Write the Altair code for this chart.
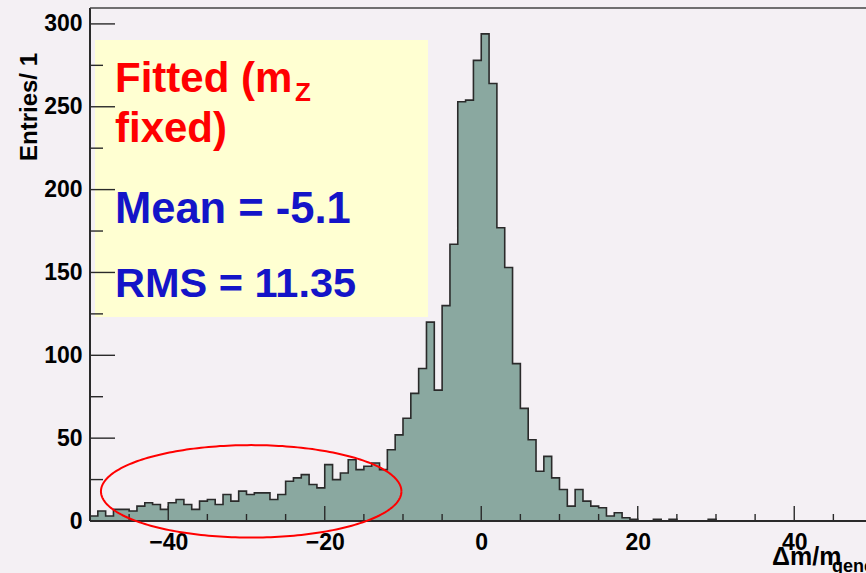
import altair as alt
import pandas as pd
import numpy as np

# ---------------- data ----------------
bin_low = list(range(-50, 50))          # bin lower edges, width 1
counts = [3, 6, 3, 7, 7, 6, 9, 11, 10, 7,
          11, 13, 10, 7, 12, 13, 10, 16, 12, 18,
          16, 17, 17, 13, 16, 24, 26, 28, 22, 20,
          34, 25, 29, 37, 31, 33, 35, 31, 43, 52,
          62, 77, 92, 120, 79, 130, 167, 253, 254, 278,
          294, 264, 177, 153, 95, 68, 49, 30, 39, 26,
          19, 9, 19, 12, 9, 8, 3, 5, 2, 1,
          0, 0, 1, 0, 1, 0, 0, 0, 0, 1,
          0, 0, 0, 0, 0, 0, 0, 0, 0, 0,
          0, 0, 0, 0, 0, 0, 0, 0, 0, 0]

y_major = [0, 50, 100, 150, 200, 250, 300]
y_minor = [25, 75, 125, 175, 225, 275]
x_major = [-40, -20, 0, 20, 40]
x_minor = [-45, -35, -30, -25, -15, -10, -5, 5, 10, 15, 25, 30, 35, 45]

# red ellipse annotation (centre / half-axes in data units)
ell_cx, ell_cy, ell_rx, ell_ry = -29.4, 17.9, 19.2, 27.9

# ---------------- styling ----------------
FONT = "Liberation Sans"
BG = "#f4f0f4"
FILL = "#8aa8a0"
DARK = "#2a2a2a"
RED = "#ff0000"
BLUE = "#1414c8"
W, H = 776, 513

xs = alt.Scale(domain=[-50, 49.17], nice=False, zero=False)
ys = alt.Scale(domain=[0, 309.6], nice=False, zero=False)
X_AX = alt.Axis(values=x_major, format="d", title=None, ticks=False, domain=False, grid=False,
                labelFont=FONT, labelFontSize=23, labelFontWeight="bold", labelColor="#000",
                labelPadding=10, labelFlush=False, labelOverlap=False)
Y_AX = alt.Axis(values=y_major, format="d", title=None, ticks=False, domain=False, grid=False,
                labelFont=FONT, labelFontSize=23, labelFontWeight="bold", labelColor="#000",
                labelPadding=8, labelFlush=False, labelOverlap=False)

def X(f="x"):
    return alt.X(f"{f}:Q", scale=xs, axis=X_AX)

def Y(f="y"):
    return alt.Y(f"{f}:Q", scale=ys, axis=Y_AX)

one = pd.DataFrame({"a": [0]})

step_df = pd.DataFrame({"x": bin_low + [50], "y": counts + [counts[-1]]})

box = alt.Chart(one).mark_rect(color="#ffffd2").encode(
    x=alt.value(5), x2=alt.value(338), y=alt.value(32), y2=alt.value(309))

area = alt.Chart(step_df).mark_area(interpolate="step-after", color=FILL).encode(x=X(), y=Y())
outline = alt.Chart(step_df).mark_line(interpolate="step-after", color=DARK, strokeWidth=1.6).encode(x=X(), y=Y())

ytk_major = alt.Chart(pd.DataFrame({"y": y_major})).mark_rule(color=DARK, strokeWidth=1.4).encode(
    y=Y(), x=alt.value(0), x2=alt.value(25))
ytk_minor = alt.Chart(pd.DataFrame({"y": y_minor})).mark_rule(color=DARK, strokeWidth=1.4).encode(
    y=Y(), x=alt.value(0), x2=alt.value(13))
xtk_major = alt.Chart(pd.DataFrame({"x": x_major})).mark_rule(color=DARK, strokeWidth=1.4).encode(
    x=X(), y=alt.value(H), y2=alt.value(H - 15))
xtk_minor = alt.Chart(pd.DataFrame({"x": x_minor})).mark_rule(color=DARK, strokeWidth=1.4).encode(
    x=X(), y=alt.value(H), y2=alt.value(H - 7))

frame_bottom = alt.Chart(one).mark_rule(color=DARK, strokeWidth=2).encode(
    x=alt.value(0), x2=alt.value(W), y=alt.value(H))
frame_left = alt.Chart(one).mark_rule(color=DARK, strokeWidth=2).encode(
    x=alt.value(0), y=alt.value(0), y2=alt.value(H))
frame_top = alt.Chart(one).mark_rule(color="#444", strokeWidth=1.5).encode(
    x=alt.value(0), x2=alt.value(W), y=alt.value(0))

t = np.linspace(0, 2 * np.pi, 241)
ell_df = pd.DataFrame({"x": ell_cx + ell_rx * np.cos(t), "y": ell_cy + ell_ry * np.sin(t), "i": np.arange(len(t))})
ellipse = alt.Chart(ell_df).mark_line(color=RED, strokeWidth=2, clip=False).encode(
    x=X(), y=Y(), order="i:Q")

def label(txt, x, y, size, color, align="left", angle=None, weight="bold"):
    kw = dict(align=align, baseline="alphabetic", font=FONT, fontSize=size,
              fontWeight=weight, color=color)
    if angle is not None:
        kw["angle"] = angle
    return alt.Chart(one).mark_text(**kw).encode(
        x=alt.value(x), y=alt.value(y), text=alt.value(txt))

texts = [
    label("Fitted (m", 25, 84, 42, RED),
    label("Z", 205, 93, 26, RED),
    label("fixed)", 25, 134, 42, RED),
    label("Mean = -5.1", 25, 215, 43.5, BLUE),
    label("RMS = 11.35", 25, 289, 41.5, BLUE),
    label("Entries/ 1", -53, 99, 24, "#000", align="center", angle=270),
    label("Δm/m", 682, 557, 25, "#000"),
    label("generated", 742, 564, 18, "#000"),
]

chart = alt.layer(
    box, area, outline, ytk_major, ytk_minor, xtk_major, xtk_minor,
    frame_bottom, frame_left, frame_top, ellipse, *texts
).properties(
    width=W, height=H,
    autosize=alt.AutoSizeParams(type="none"),
    padding={"left": 90, "top": 8, "right": 0, "bottom": 52},
    background=BG,
).configure_view(strokeWidth=0)

chart.save("out.html", embed_options={"renderer": "svg", "actions": False})
